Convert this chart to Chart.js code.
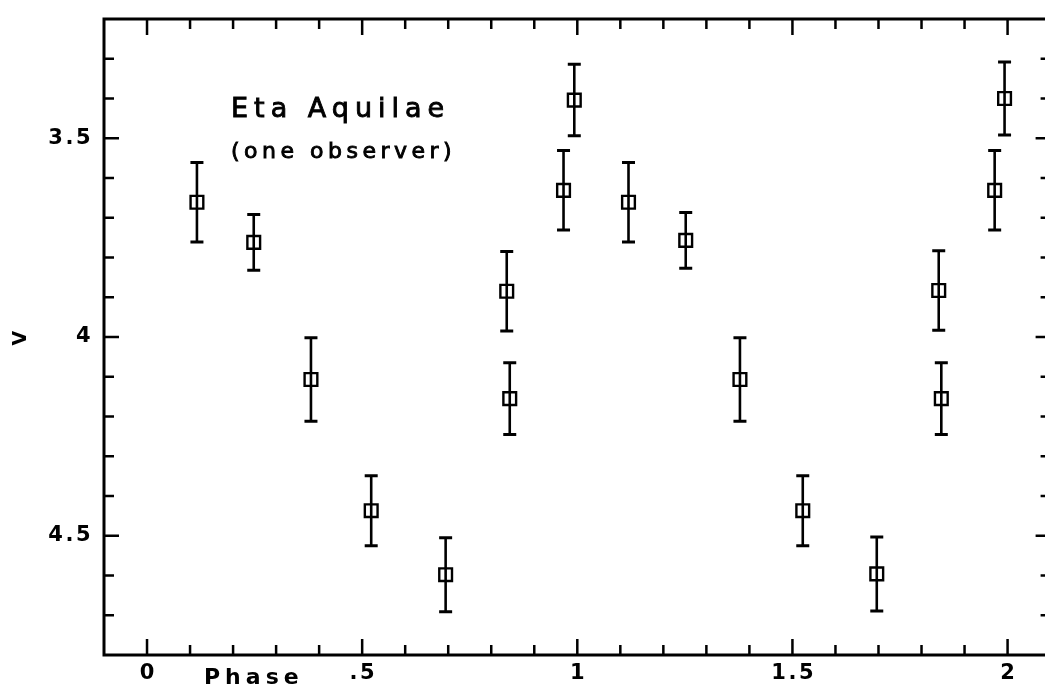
<!DOCTYPE html>
<html>
<head>
<meta charset="utf-8">
<script src="https://cdn.jsdelivr.net/npm/chart.js@4.4.0/dist/chart.umd.min.js"></script>
<style>
  html, body { margin: 0; padding: 0; background: #fff; overflow: hidden; }
  #wrap { width: 1062px; height: 692px; }
</style>
</head>
<body>
<div id="wrap"><canvas id="myChart" width="1062" height="692"></canvas></div>
<script>
// phase and V magnitude, first cycle
const phaseA = [0.116, 0.248, 0.381, 0.521, 0.694, 0.836, 0.843, 0.968, 0.993];
const magA   = [3.661, 3.762, 4.107, 4.437, 4.598, 3.885, 4.155, 3.631, 3.404];
const errA   = [0.100, 0.070, 0.105, 0.088, 0.093, 0.100, 0.090, 0.100, 0.090];
// second cycle (the same observations plotted again)
const phaseB = [1.119, 1.252, 1.378, 1.524, 1.696, 1.840, 1.846, 1.970, 1.993];
const magB   = [3.661, 3.757, 4.107, 4.437, 4.596, 3.883, 4.155, 3.631, 3.400];
const errB   = [0.100, 0.070, 0.105, 0.088, 0.093, 0.100, 0.090, 0.100, 0.092];

const xTickValues = [0, 0.5, 1, 1.5, 2];
const xTickLabels = ['0', '.5', '1', '1.5', '2'];
const yTickValues = [3.5, 4, 4.5];
const yTickLabels = ['3.5', '4', '4.5'];

const FONT = "'DejaVu Sans', 'Liberation Sans', Arial, sans-serif";

function pts(xs, ys) {
  return xs.map((x, i) => ({ x: x, y: ys[i] }));
}

// frame, inward ticks, error bars and the text inside the plot
const decor = {
  id: 'decor',
  beforeDraw(chart) {
    chart.ctx.letterSpacing = '2.5px';
  },
  beforeDatasetsDraw(chart) {
    const ctx = chart.ctx;
    const xs = chart.scales.x, ys = chart.scales.y;
    ctx.save();
    ctx.strokeStyle = '#000';
    [[phaseA, magA, errA], [phaseB, magB, errB]].forEach(([px, py, pe]) => {
      px.forEach((p, i) => {
        const x = xs.getPixelForValue(p);
        const y1 = ys.getPixelForValue(py[i] - pe[i]);
        const y2 = ys.getPixelForValue(py[i] + pe[i]);
        ctx.lineWidth = 2.6;
        ctx.beginPath();
        ctx.moveTo(x, y1); ctx.lineTo(x, y2);
        ctx.stroke();
        ctx.lineWidth = 3;
        ctx.beginPath();
        ctx.moveTo(x - 6.5, y1); ctx.lineTo(x + 6.5, y1);
        ctx.moveTo(x - 6.5, y2); ctx.lineTo(x + 6.5, y2);
        ctx.stroke();
      });
    });
    ctx.restore();
  },
  afterDraw(chart) {
    const ctx = chart.ctx;
    const a = chart.chartArea;
    const xs = chart.scales.x, ys = chart.scales.y;
    ctx.save();
    ctx.strokeStyle = '#000';
    ctx.fillStyle = '#000';

    // ticks pointing inward on all four sides
    ctx.lineWidth = 2.5;
    ctx.beginPath();
    for (let k = Math.round(xs.min * 10) + 1; k < Math.round(xs.max * 10); k++) {
      const v = k / 10;
      const len = xTickValues.some(t => Math.abs(t - v) < 1e-6) ? 16 : 10;
      const x = xs.getPixelForValue(v);
      ctx.moveTo(x, a.bottom); ctx.lineTo(x, a.bottom - len);
      ctx.moveTo(x, a.top); ctx.lineTo(x, a.top + len);
    }
    for (let k = Math.round(ys.min * 10) + 1; k < Math.round(ys.max * 10); k++) {
      const v = k / 10;
      const len = yTickValues.some(t => Math.abs(t - v) < 1e-6) ? 15 : 10;
      const y = ys.getPixelForValue(v);
      ctx.moveTo(a.left, y); ctx.lineTo(a.left + len, y);
      ctx.moveTo(a.right, y); ctx.lineTo(a.right - len, y);
    }
    ctx.stroke();

    ctx.lineWidth = 3;
    ctx.strokeRect(a.left, a.top, a.right - a.left, a.bottom - a.top);

    // labels
    ctx.textAlign = 'left';
    ctx.textBaseline = 'alphabetic';
    ctx.lineWidth = 0.9;
    ctx.letterSpacing = '6px';
    ctx.font = '27px ' + FONT;
    ctx.fillText('Eta Aquilae', 231, 117);
    ctx.strokeText('Eta Aquilae', 231, 117);
    ctx.letterSpacing = '4.5px';
    ctx.font = '22px ' + FONT;
    ctx.fillText('(one observer)', 231, 158);
    ctx.strokeText('(one observer)', 231, 158);
    ctx.letterSpacing = '5px';
    ctx.font = 'bold 22px ' + FONT;
    ctx.fillText('Phase', 204, 684);
    ctx.restore();
    ctx.letterSpacing = '0px';
  }
};

const ctx = document.getElementById('myChart').getContext('2d');
const chart = new Chart(ctx, {
  type: 'scatter',
  data: {
    datasets: [
      { data: pts(phaseA, magA) },
      { data: pts(phaseB, magB) }
    ]
  },
  options: {
    responsive: false,
    animation: false,
    layout: { padding: { top: 19, right: 11, left: 0, bottom: 0 } },
    elements: {
      point: {
        pointStyle: 'rect',
        radius: 9,
        hoverRadius: 9,
        borderWidth: 2.4,
        borderColor: '#000',
        backgroundColor: 'rgba(0,0,0,0)'
      }
    },
    plugins: {
      legend: { display: false },
      tooltip: { enabled: false }
    },
    scales: {
      x: {
        type: 'linear',
        min: -0.1,
        max: 2.1,
        grid: { display: false, drawTicks: false },
        border: { display: false },
        afterBuildTicks: s => { s.ticks = xTickValues.map(v => ({ value: v })); },
        afterFit: s => { s.height = 37; },
        ticks: {
          autoSkip: false,
          maxRotation: 0,
          padding: 6,
          labelOffset: 1.2,
          color: '#000',
          font: { family: FONT, size: 21, weight: 'bold' },
          callback: (v, i) => xTickLabels[i]
        }
      },
      y: {
        type: 'linear',
        reverse: true,
        min: 3.2,
        max: 4.8,
        grid: { display: false, drawTicks: false },
        border: { display: false },
        afterBuildTicks: s => { s.ticks = yTickValues.map(v => ({ value: v })); },
        afterFit: s => { s.width = 104; },
        title: {
          display: true,
          text: 'V',
          color: '#000',
          font: { family: FONT, size: 19, weight: 'bold' },
          padding: { top: 10, bottom: 0 }
        },
        ticks: {
          autoSkip: false,
          padding: 11,
          color: '#000',
          font: { family: FONT, size: 21, weight: 'bold', lineHeight: 0.75 },
          callback: (v, i) => yTickLabels[i]
        }
      }
    }
  },
  plugins: [decor]
});
</script>
</body>
</html>
